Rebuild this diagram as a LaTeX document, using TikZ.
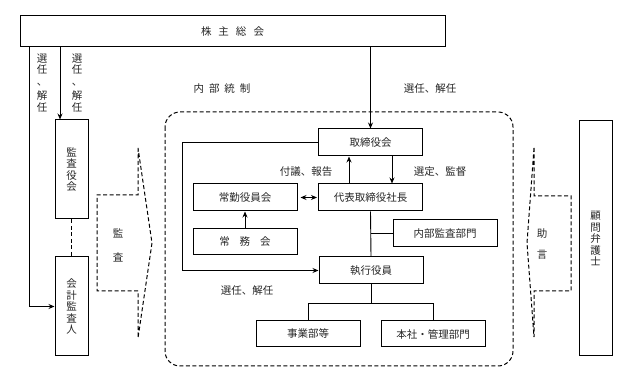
\documentclass[tikz,border=0pt]{standalone}
\usepackage{fontspec}
\newfontfamily\jp{Noto Sans CJK JP}
\usetikzlibrary{arrows.meta}
\tikzset{
  box/.style={draw, line width=1pt, inner sep=0pt, minimum width=104pt, minimum height=27pt},
  vbox/.style={box, minimum width=33pt, align=center},
  lbl/.style={inner sep=0pt, align=center},
  dsh/.style={line width=1pt, dash pattern=on 4pt off 2.5pt},
  arr/.style={-{Stealth[length=6pt,width=5pt]}, line width=0.9pt}
}
\begin{document}
\begin{tikzpicture}[x=1pt, y=-1pt, font=\jp\fontsize{10.5}{11.5}\selectfont, text=black!85]
\useasboundingbox (0,0) rectangle (619,379);
% upper level
\node[box, minimum width=425pt, minimum height=31pt] (sh) at (232.5,31.5) {株\hspace{7pt}主\hspace{7pt}総\hspace{7pt}会};
\node[vbox, minimum height=99pt] (kansa) at (71.5,169.5) {監\\査\\役\\会};
\node[vbox, minimum height=99pt] (kaikei) at (71.5,306.5) {会\\計\\監\\査\\人};
\node[vbox, minimum height=235pt] (bengo) at (595.5,238.5) {顧\\問\\弁\\護\\士};
% internal control
\draw[dsh, rounded corners=15pt] (165,112) rectangle (513,366);
\node[lbl] (naibutosei) at (222,89) {内\hspace{5pt}部\hspace{5pt}統\hspace{5pt}制};
\node[box] (tori) at (370.5,142.5) {取締役会};
\node[box] (daihyo) at (370.5,197.5) {代表取締役社長};
\node[box] (joukin) at (245,197.5) {常勤役員会};
\node[box, minimum height=26pt] (jomu) at (245,242) {常\hspace{10pt}務\hspace{10pt}会};
\node[box] (naibu) at (445,233.5) {内部監査部門};
\node[box] (shikko) at (371,270.5) {執行役員};
\node[box, minimum height=26pt] (jigyo) at (308,334) {事業部等};
\node[box, minimum height=26pt] (honsha) at (433,334) {本社・管理部門};
% labels
\node[lbl] (l1) at (42,83) {選\\任\\、\\[3pt]解\\任};
\node[lbl] (l2) at (77,83) {選\\任\\、\\[3pt]解\\任};
\node[lbl] (l3) at (430,89) {選任、解任};
\node[lbl] (l4) at (306,172) {付議、報告};
\node[lbl] (l5) at (440,172) {選定、監督};
\node[lbl] (l6) at (247,291) {選任、解任};
\node[lbl] (kansatxt) at (118,245.5) {監\\[13pt]査};
\node[lbl] (jogen) at (542,244) {助\\[10pt]言};
% audit and advice arrows
\draw[dsh] (138,148) -- (138,195) -- (97,195) -- (97,291) -- (138,291) -- (138,338) -- (152,243) -- cycle;
\draw[dsh] (534,148) -- (534,196) -- (571,196) -- (571,291) -- (534,291) -- (534,337) -- (527,243) -- cycle;
% connectors
\coordinate (a0) at (29,47);
\coordinate (a1) at (60,47);
\draw[arr] (a0) |- (kaikei.west);
\draw[arr] (a1) -- (a1 |- kansa.north);
\draw[dsh] (kansa.south) -- (kaikei.north);
\draw[arr] (sh.south -| tori) -- (tori.north);
\draw[arr] ([xshift=-21.5pt]daihyo.north) -- ([xshift=-21.5pt]tori.south);
\draw[arr] ([xshift=21.5pt]tori.south) -- ([xshift=21.5pt]daihyo.north);
\draw[{Stealth[length=6pt,width=5pt]}-{Stealth[length=6pt,width=5pt]}, line width=0.9pt, shorten <=3pt, shorten >=1pt] (joukin.east) -- (daihyo.west);
\draw[arr] (jomu.north) -- (joukin.south);
\draw[line width=0.9pt] (daihyo.south) -- (shikko.north);
\draw[line width=0.9pt] (naibu.west) -- (daihyo.south |- naibu.west);
\draw[arr] (tori.west) -- ++(-136,0) |- (shikko.west);
\draw[line width=0.9pt] (shikko.south) -- ++(0,19) coordinate (br);
\draw[line width=0.9pt] (jigyo.north) |- (br) -| (honsha.north);
\end{tikzpicture}
\end{document}
